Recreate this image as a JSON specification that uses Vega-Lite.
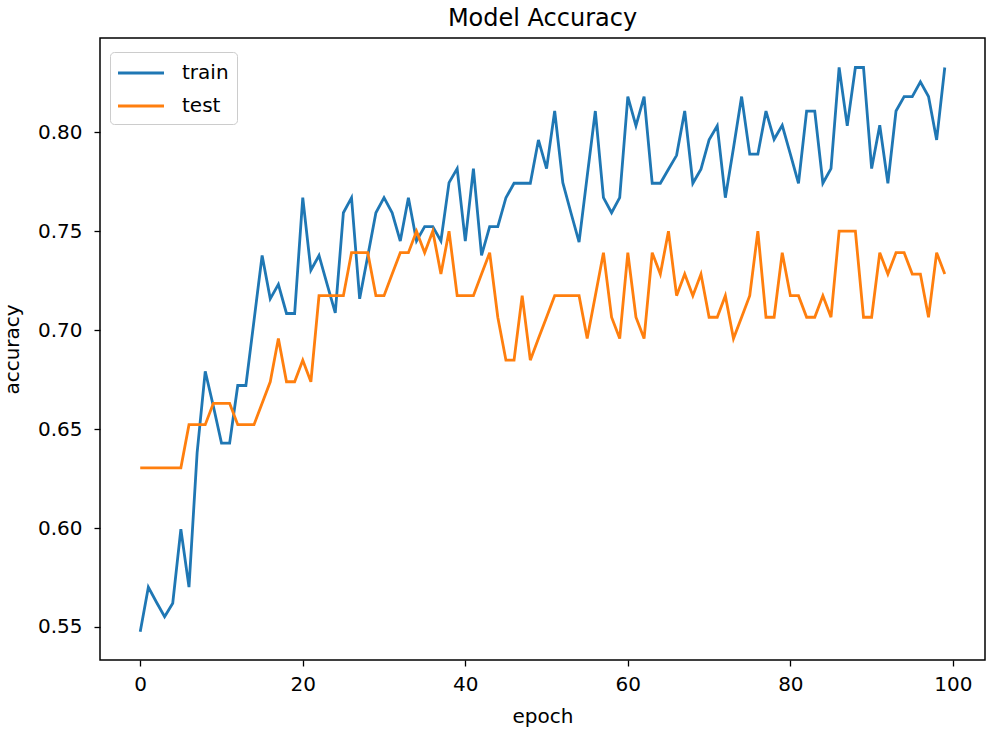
{
  "$schema": "https://vega.github.io/schema/vega-lite/v6.json",
  "width": 885,
  "height": 622,
  "autosize": {"type": "none"},
  "padding": {"left": 100, "top": 38, "right": 6, "bottom": 74},
  "background": "white",
  "title": {"text": "Model Accuracy", "font": "DejaVu Sans", "fontSize": 24, "fontWeight": "normal", "color": "black", "offset": 7, "anchor": "middle"},
  "config": {
    "view": {"stroke": "black", "strokeWidth": 1.5},
    "axis": {"grid": false, "domain": false, "tickColor": "black", "tickSize": 6, "tickWidth": 1.3, "labelFont": "DejaVu Sans", "labelFontSize": 20, "labelColor": "black", "titleFont": "DejaVu Sans", "titleFontSize": 20, "titleFontWeight": "normal", "titleColor": "black"}
  },
  "data": {"values": [
    {"epoch":0,"train":0.5476,"test":0.6304},{"epoch":1,"train":0.5701,"test":0.6304},{"epoch":2,"train":0.5625,"test":0.6304},{"epoch":3,"train":0.5552,"test":0.6304},{"epoch":4,"train":0.5620,"test":0.6304},
    {"epoch":5,"train":0.5994,"test":0.6304},{"epoch":6,"train":0.5701,"test":0.6522},{"epoch":7,"train":0.6380,"test":0.6522},{"epoch":8,"train":0.6792,"test":0.6522},{"epoch":9,"train":0.6615,"test":0.6630},
    {"epoch":10,"train":0.6429,"test":0.6630},{"epoch":11,"train":0.6429,"test":0.6630},{"epoch":12,"train":0.6720,"test":0.6522},{"epoch":13,"train":0.6720,"test":0.6522},{"epoch":14,"train":0.7048,"test":0.6522},
    {"epoch":15,"train":0.7377,"test":0.6630},{"epoch":16,"train":0.7158,"test":0.6739},{"epoch":17,"train":0.7231,"test":0.6957},{"epoch":18,"train":0.7084,"test":0.6739},{"epoch":19,"train":0.7084,"test":0.6739},
    {"epoch":20,"train":0.7669,"test":0.6848},{"epoch":21,"train":0.7303,"test":0.6739},{"epoch":22,"train":0.7377,"test":0.7174},{"epoch":23,"train":0.7231,"test":0.7174},{"epoch":24,"train":0.7087,"test":0.7174},
    {"epoch":25,"train":0.7593,"test":0.7174},{"epoch":26,"train":0.7669,"test":0.7391},{"epoch":27,"train":0.7158,"test":0.7391},{"epoch":28,"train":0.7374,"test":0.7391},{"epoch":29,"train":0.7593,"test":0.7174},
    {"epoch":30,"train":0.7669,"test":0.7174},{"epoch":31,"train":0.7593,"test":0.7283},{"epoch":32,"train":0.7450,"test":0.7391},{"epoch":33,"train":0.7669,"test":0.7391},{"epoch":34,"train":0.7450,"test":0.7500},
    {"epoch":35,"train":0.7523,"test":0.7391},{"epoch":36,"train":0.7523,"test":0.7500},{"epoch":37,"train":0.7450,"test":0.7283},{"epoch":38,"train":0.7745,"test":0.7500},{"epoch":39,"train":0.7816,"test":0.7174},
    {"epoch":40,"train":0.7450,"test":0.7174},{"epoch":41,"train":0.7816,"test":0.7174},{"epoch":42,"train":0.7377,"test":0.7283},{"epoch":43,"train":0.7523,"test":0.7391},{"epoch":44,"train":0.7523,"test":0.7065},
    {"epoch":45,"train":0.7669,"test":0.6848},{"epoch":46,"train":0.7742,"test":0.6848},{"epoch":47,"train":0.7742,"test":0.7174},{"epoch":48,"train":0.7742,"test":0.6848},{"epoch":49,"train":0.7961,"test":0.6957},
    {"epoch":50,"train":0.7816,"test":0.7065},{"epoch":51,"train":0.8107,"test":0.7174},{"epoch":52,"train":0.7745,"test":0.7174},{"epoch":53,"train":0.7593,"test":0.7174},{"epoch":54,"train":0.7445,"test":0.7174},
    {"epoch":55,"train":0.7778,"test":0.6957},{"epoch":56,"train":0.8107,"test":0.7174},{"epoch":57,"train":0.7669,"test":0.7391},{"epoch":58,"train":0.7593,"test":0.7065},{"epoch":59,"train":0.7669,"test":0.6957},
    {"epoch":60,"train":0.8180,"test":0.7391},{"epoch":61,"train":0.8032,"test":0.7065},{"epoch":62,"train":0.8180,"test":0.6957},{"epoch":63,"train":0.7742,"test":0.7391},{"epoch":64,"train":0.7742,"test":0.7283},
    {"epoch":65,"train":0.7813,"test":0.7500},{"epoch":66,"train":0.7883,"test":0.7174},{"epoch":67,"train":0.8107,"test":0.7283},{"epoch":68,"train":0.7742,"test":0.7174},{"epoch":69,"train":0.7813,"test":0.7283},
    {"epoch":70,"train":0.7961,"test":0.7065},{"epoch":71,"train":0.8032,"test":0.7065},{"epoch":72,"train":0.7669,"test":0.7174},{"epoch":73,"train":0.7920,"test":0.6957},{"epoch":74,"train":0.8180,"test":0.7065},
    {"epoch":75,"train":0.7889,"test":0.7174},{"epoch":76,"train":0.7889,"test":0.7500},{"epoch":77,"train":0.8107,"test":0.7065},{"epoch":78,"train":0.7964,"test":0.7065},{"epoch":79,"train":0.8035,"test":0.7391},
    {"epoch":80,"train":0.7889,"test":0.7174},{"epoch":81,"train":0.7742,"test":0.7174},{"epoch":82,"train":0.8107,"test":0.7065},{"epoch":83,"train":0.8107,"test":0.7065},{"epoch":84,"train":0.7742,"test":0.7174},
    {"epoch":85,"train":0.7816,"test":0.7065},{"epoch":86,"train":0.8327,"test":0.7500},{"epoch":87,"train":0.8032,"test":0.7500},{"epoch":88,"train":0.8327,"test":0.7500},{"epoch":89,"train":0.8327,"test":0.7065},
    {"epoch":90,"train":0.7816,"test":0.7065},{"epoch":91,"train":0.8035,"test":0.7391},{"epoch":92,"train":0.7742,"test":0.7283},{"epoch":93,"train":0.8107,"test":0.7391},{"epoch":94,"train":0.8180,"test":0.7391},
    {"epoch":95,"train":0.8180,"test":0.7283},{"epoch":96,"train":0.8254,"test":0.7283},{"epoch":97,"train":0.8180,"test":0.7065},{"epoch":98,"train":0.7961,"test":0.7391},{"epoch":99,"train":0.8327,"test":0.7283}
  ]},
  "transform": [{"fold": ["train", "test"], "as": ["series", "accuracy"]}],
  "mark": {"type": "line", "strokeWidth": 2.8, "clip": true},
  "encoding": {
    "x": {"field": "epoch", "type": "quantitative", "scale": {"domain": [-4.95, 103.95], "nice": false, "zero": false},
      "axis": {"values": [0, 20, 40, 60, 80, 100], "title": "epoch", "labelPadding": 8, "titlePadding": 12}},
    "y": {"field": "accuracy", "type": "quantitative", "scale": {"domain": [0.5333, 0.8476], "nice": false, "zero": false},
      "axis": {"values": [0.55, 0.6, 0.65, 0.7, 0.75, 0.8], "format": ".2f", "title": "accuracy", "labelPadding": 12, "titlePadding": 15}},
    "color": {"field": "series", "type": "nominal",
      "scale": {"domain": ["train", "test"], "range": ["#1f77b4", "#ff7f0e"]},
      "legend": {"title": null, "orient": "none", "legendX": 10, "legendY": 14, "padding": 8, "cornerRadius": 4, "strokeColor": "#cccccc", "fillColor": "white",
        "symbolType": "M-2,0H2", "symbolSize": 529, "symbolOffset": 10, "symbolStrokeWidth": 2.8, "symbolFillColor": "transparent", "labelFont": "DejaVu Sans", "labelFontSize": 20, "labelColor": "black", "labelOffset": 28, "rowPadding": 10}}
  }
}
